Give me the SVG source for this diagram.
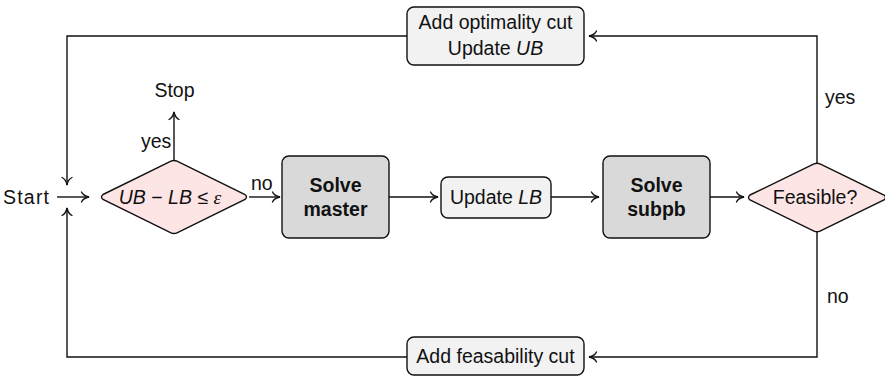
<svg xmlns="http://www.w3.org/2000/svg" width="885" height="377" viewBox="0 0 885 377">
  <style>
    text { font-family: "Liberation Sans", "DejaVu Sans", sans-serif; font-size: 19.5px; fill: #111; }
    .c { text-anchor: middle; }
    .b { font-weight: bold; }
    .i { font-style: italic; }
    .eps { font-family: "Liberation Serif", serif; font-style: italic; }
    .edge { fill: none; stroke: #111; stroke-width: 1.4; marker-end: url(#to); }
    .proc { fill: #d9d9d9; stroke: #111; stroke-width: 1.4; }
    .step { fill: #f2f2f2; stroke: #111; stroke-width: 1.4; }
    .dec { fill: #fde5e5; stroke: #111; stroke-width: 1.4; }
  </style>
  <defs>
    <!-- open curved arrow tip -->
    <marker id="to" markerUnits="userSpaceOnUse" markerWidth="14" markerHeight="14" viewBox="-10 -7 12 14" refX="0" refY="0" orient="auto" overflow="visible">
      <path d="M-7.5,-5 C-6.3,-2.2 -2.8,-0.6 0,0 C-2.8,0.6 -6.3,2.2 -7.5,5" fill="none" stroke="#111" stroke-width="1.35" stroke-linecap="round"/>
    </marker>
  </defs>

  <!-- connectors -->
  <g id="connectors">
    <path class="edge" d="M57,197 H89"/>
    <path class="edge" d="M407,36 H67 V185"/>
    <path class="edge" d="M407,357 H67 V208"/>
    <path class="edge" d="M174,160 V112"/>
    <path class="edge" d="M249,197 H280"/>
    <path class="edge" d="M389,197 H438"/>
    <path class="edge" d="M551,197 H599"/>
    <path class="edge" d="M710,197 H744"/>
    <path class="edge" d="M817,163 V36 H589"/>
    <path class="edge" d="M817,232 V357 H589"/>
    <text x="141" y="148">yes</text>
    <text x="251" y="190">no</text>
    <text x="825" y="104">yes</text>
    <text x="827" y="303">no</text>
  </g>

  <g id="start">
    <text x="3" y="204" textLength="46">Start</text>
  </g>

  <g id="stop">
    <text class="c" x="174.5" y="97">Stop</text>
  </g>

  <g id="check-gap">
    <path class="dec" d="M103,194.5 L171,161.2 Q174,159.8 177,161.2 L245,194.5 Q248,197 245,199.5 L177,232.8 Q174,234.2 171,232.8 L103,199.5 Q100,197 103,194.5 Z"/>
    <text class="c" x="170" y="204"><tspan class="i">UB</tspan> − <tspan class="i">LB</tspan> ≤ <tspan class="eps">ε</tspan></text>
  </g>

  <g id="solve-master">
    <rect class="proc" x="282" y="156" width="107" height="82" rx="7"/>
    <text class="c b" x="335.5" y="192">Solve</text>
    <text class="c b" x="335.5" y="216">master</text>
  </g>

  <g id="update-lb">
    <rect class="step" x="441" y="177" width="110" height="41" rx="7"/>
    <text class="c" x="496" y="204">Update <tspan class="i">LB</tspan></text>
  </g>

  <g id="solve-subpb">
    <rect class="proc" x="603" y="156" width="107" height="82" rx="7"/>
    <text class="c b" x="656.5" y="192">Solve</text>
    <text class="c b" x="656.5" y="216">subpb</text>
  </g>

  <g id="feasible">
    <path class="dec" d="M750,195 L814,163.9 Q817,162.5 820,163.9 L884,195 Q887,197.5 884,200 L820,231.1 Q817,232.5 814,231.1 L750,200 Q747,197.5 750,195 Z"/>
    <text class="c" x="815" y="204">Feasible?</text>
  </g>

  <g id="optimality-cut">
    <rect class="step" x="407" y="7" width="177" height="58" rx="7"/>
    <text class="c" x="495.5" y="29">Add optimality cut</text>
    <text class="c" x="495.5" y="55">Update <tspan class="i">UB</tspan></text>
  </g>

  <g id="feasibility-cut">
    <rect class="step" x="407" y="337" width="177" height="38" rx="7"/>
    <text class="c" x="495.5" y="363">Add feasability cut</text>
  </g>
</svg>
